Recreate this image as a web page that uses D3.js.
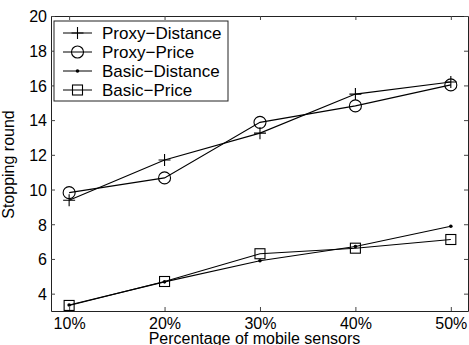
<!DOCTYPE html>
<html>
<head>
<meta charset="utf-8">
<script src="https://cdn.jsdelivr.net/npm/d3@7"></script>
<style>
  body { margin: 0; background: #fff; }
  svg { display: block; font-family: "Liberation Sans", Arial, sans-serif; }
</style>
</head>
<body>
<div id="chart"></div>
<script>
// percentages on x
var percents = [10, 20, 30, 40, 50]
var xTickLabels = ["10%", "20%", "30%", "40%", "50%"]
var yTicks = [4, 6, 8, 10, 12, 14, 16, 18, 20]

var proxyDistance = [9.38, 11.7, 13.25, 15.5, 16.2]
var proxyPrice = [9.82, 10.67, 13.87, 14.82, 16.03]
var basicDistance = [3.35, 4.68, 5.9, 6.72, 7.88]
var basicPrice = [3.32, 4.7, 6.3, 6.62, 7.12]

var seriesNames = ["Proxy\u2212Distance", "Proxy\u2212Price", "Basic\u2212Distance", "Basic\u2212Price"]
var seriesMarkers = ["plus", "circle", "dot", "square"]

var W = 469, H = 345
var margin = {top: 16, right: 1, bottom: 34, left: 51}
var width = W - margin.left - margin.right
var height = H - margin.top - margin.bottom

var svg = d3.select("#chart").append("svg")
    .attr("width", W)
    .attr("height", H)
  .append("g")
    .attr("transform", "translate(" + margin.left + "," + margin.top + ")")

var x = d3.scaleLinear().domain([8.1, 51.8]).range([0, width])
var y = d3.scaleLinear().domain([3, 20]).range([height, 0])

// axes with inward ticks, matlab style
var xAxis = svg.append("g")
  .attr("transform", "translate(0," + height + ")")
  .call(d3.axisBottom(x).tickValues(percents).tickSizeInner(-4).tickSizeOuter(0).tickPadding(7)
    .tickFormat(function(d, i){ return xTickLabels[i] }))
svg.append("g")
  .call(d3.axisTop(x).tickValues(percents).tickSizeInner(-4).tickSizeOuter(0).tickFormat(""))
var yAxis = svg.append("g")
  .call(d3.axisLeft(y).tickValues(yTicks).tickSizeInner(-4).tickSizeOuter(0).tickPadding(4))
svg.append("g")
  .attr("transform", "translate(" + width + ",0)")
  .call(d3.axisRight(y).tickValues(yTicks).tickSizeInner(-4).tickSizeOuter(0).tickFormat(""))

svg.selectAll("g").attr("font-family", null)
svg.selectAll(".domain").attr("stroke", "#222")
svg.selectAll(".tick line").attr("stroke", "#444")
svg.selectAll(".tick text").attr("font-size", "16px").attr("fill", "#000")
yAxis.selectAll(".tick text").attr("dy", "0.36em")

// axis titles
svg.append("text")
  .attr("x", width / 2 - 5)
  .attr("y", height + 33)
  .attr("text-anchor", "middle")
  .attr("font-size", "16px")
  .text("Percentage of mobile sensors")

svg.append("text")
  .attr("transform", "translate(" + (-37) + "," + (height / 2 + 1) + ") rotate(-90)")
  .attr("text-anchor", "middle")
  .attr("font-size", "16px")
  .text("Stopping round")

var allSeries = [proxyDistance, proxyPrice, basicDistance, basicPrice]

var line = d3.line()
  .x(function(d, i){ return x(percents[i]) })
  .y(function(d){ return y(d) })

function drawMarker(g, type, cx, cy) {
  if (type == "plus") {
    g.append("path").attr("d", "M" + (cx - 6) + "," + cy + "H" + (cx + 6) + "M" + cx + "," + (cy - 6) + "V" + (cy + 6))
      .attr("stroke", "#000").attr("stroke-width", 1.1)
  } else if (type == "circle") {
    g.append("circle").attr("cx", cx).attr("cy", cy).attr("r", 6)
      .attr("fill", "none").attr("stroke", "#000").attr("stroke-width", 1.1)
  } else if (type == "dot") {
    g.append("circle").attr("cx", cx).attr("cy", cy).attr("r", 1.8).attr("fill", "#000")
  } else {
    g.append("rect").attr("x", cx - 5).attr("y", cy - 5).attr("width", 10).attr("height", 10)
      .attr("fill", "none").attr("stroke", "#000").attr("stroke-width", 1.1)
  }
}

allSeries.forEach(function(vals, s){
  var g = svg.append("g")
  g.append("path")
    .datum(vals)
    .attr("d", line)
    .attr("fill", "none")
    .attr("stroke", "#000")
    .attr("stroke-width", 1.1)
  vals.forEach(function(v, i){
    drawMarker(g, seriesMarkers[s], x(percents[i]), y(v))
  })
})

// legend
var legend = svg.append("g").attr("transform", "translate(3,5)")
legend.append("rect")
  .attr("width", 174).attr("height", 80)
  .attr("fill", "#fff").attr("stroke", "#222").attr("stroke-width", 1)
seriesNames.forEach(function(name, i){
  var ly = 12 + i * 19
  legend.append("line").attr("x1", 9).attr("x2", 38).attr("y1", ly).attr("y2", ly)
    .attr("stroke", "#000").attr("stroke-width", 1)
  drawMarker(legend, seriesMarkers[i], 23.5, ly)
  legend.append("text")
    .attr("x", 48).attr("y", ly + 6)
    .attr("font-size", "17px")
    .text(name)
})
</script>
</body>
</html>
